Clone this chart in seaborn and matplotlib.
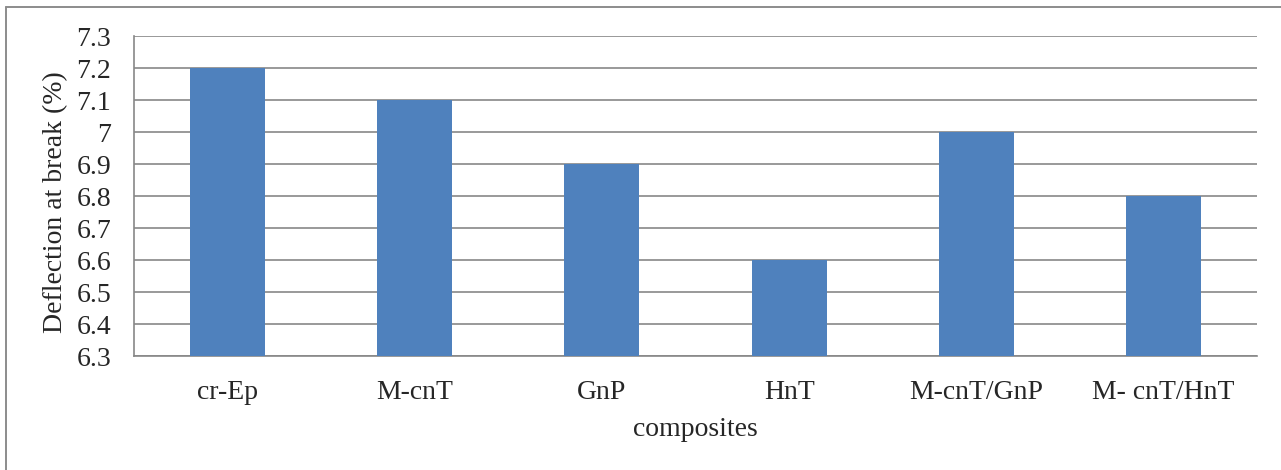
import matplotlib
matplotlib.use("Agg")
import matplotlib.pyplot as plt
import seaborn as sns
import pandas as pd
from matplotlib.lines import Line2D

categories = ["cr-Ep", "M-cnT", "GnP", "HnT", "M-cnT/GnP", "M- cnT/HnT"]
values = [7.2, 7.1, 6.9, 6.6, 7.0, 6.8]
yticks = [6.3, 6.4, 6.5, 6.6, 6.7, 6.8, 6.9, 7.0, 7.1, 7.2, 7.3]
ytick_labels = ["6.3", "6.4", "6.5", "6.6", "6.7", "6.8", "6.9", "7", "7.1", "7.2", "7.3"]

sns.set_style("white")
plt.rcParams["font.family"] = ["Liberation Serif", "DejaVu Serif"]

W, H = 1281, 470
FS = 20
fig = plt.figure(figsize=(W / 100, H / 100), dpi=100)
ax = fig.add_axes([134 / W, 1 - 356 / H, (1257 - 134) / W, (356 - 36) / H])

df = pd.DataFrame({"cat": categories, "val": values})
sns.barplot(data=df, x="cat", y="val", color="#4F81BD", saturation=1, width=0.4,
            ax=ax, zorder=3, edgecolor="none")

grid_c = "#878787"
lw = 1.2
ax.set_ylim(6.3, 7.3)
ax.set_xlim(-0.5, len(categories) - 0.5)
ax.set_yticks(yticks)
ax.set_yticklabels(ytick_labels, fontsize=FS)
ax.yaxis.grid(True, color=grid_c, linewidth=lw, zorder=0)
ax.set_axisbelow(True)

ax.set_xticks(range(len(categories)))
ax.set_xticklabels(categories, fontsize=FS)
ax.tick_params(axis="x", length=0, pad=17)
ax.set_xticks([i - 0.5 for i in range(len(categories) + 1)], minor=True)
ax.tick_params(axis="x", which="minor", length=5.5, width=lw, color=grid_c, direction="out")
ax.tick_params(axis="y", length=5.5, width=lw, color=grid_c, direction="out", pad=11)

for s in ["top", "right"]:
    ax.spines[s].set_visible(False)
for s in ["left", "bottom"]:
    ax.spines[s].set_color(grid_c)
    ax.spines[s].set_linewidth(lw)

ax.set_xlabel("composites", fontsize=FS, labelpad=9)
ax.set_ylabel("Deflection at break (%)", fontsize=FS)
ax.yaxis.set_label_coords(-0.0585, 0.482)

# outer chart border (left and top visible)
fig.add_artist(Line2D([6 / W, 6 / W], [0, 1 - 6.5 / H], transform=fig.transFigure,
                      color="#8c8c8c", linewidth=1.4))
fig.add_artist(Line2D([6 / W, 1], [1 - 6.5 / H, 1 - 6.5 / H], transform=fig.transFigure,
                      color="#8c8c8c", linewidth=1.4))

fig.savefig("out.png", dpi=100)
